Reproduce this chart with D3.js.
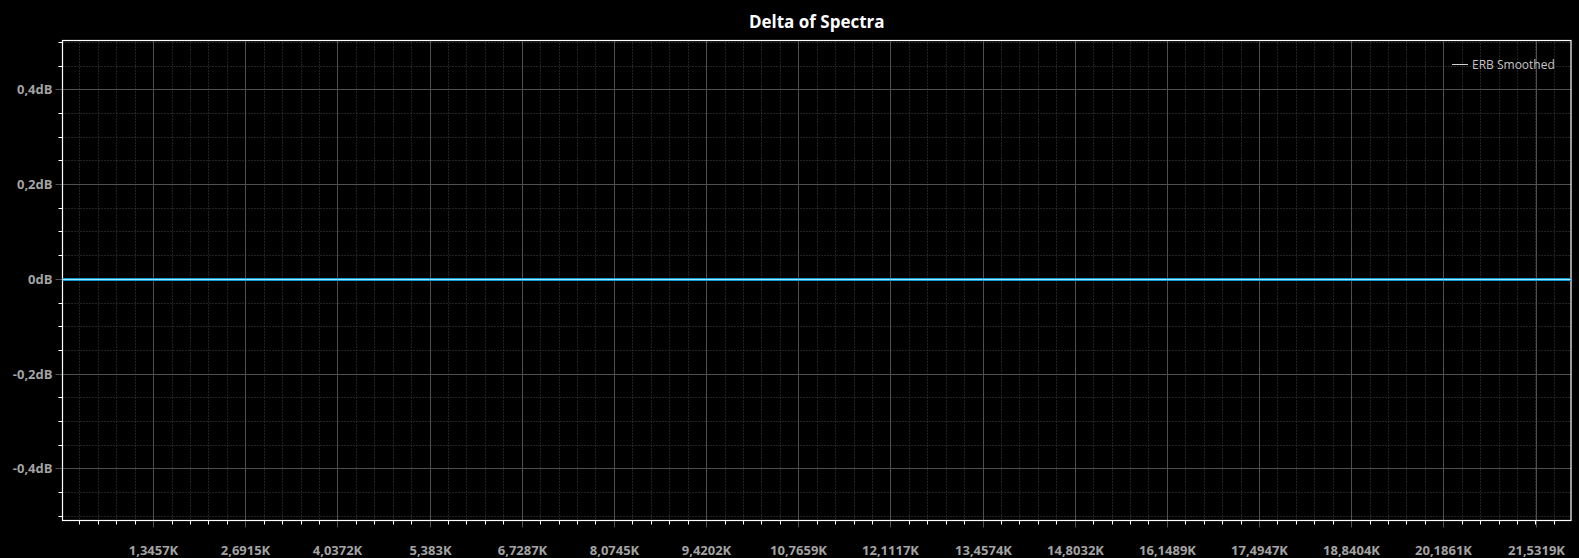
<!DOCTYPE html>
<html>
<head>
<meta charset="utf-8">
<title>Delta of Spectra</title>
<style>
  html, body { margin: 0; padding: 0; background: #000; }
  svg { display: block; }
  text { font-family: "Open Sans", "Noto Sans", sans-serif; }
  .tick-label { fill: #a3a3a3; font-size: 13px; font-weight: 700; }
  .title { fill: #fff; font-size: 17px; font-weight: 700; }
  .legend-text { fill: #c4c4c4; font-size: 12px; }
</style>
</head>
<body>
<svg id="chart" width="1579" height="558"></svg>
<script src="https://cdn.jsdelivr.net/npm/d3@7/dist/d3.min.js"></script>
<script>
// data
const freqs = [22, 1345.7, 2691.5, 4037.2, 5383, 6728.7, 8074.5, 9420.2, 10765.9,
               12111.7, 13457.4, 14803.2, 16148.9, 17494.7, 18840.4, 20186.1, 21531.9, 22050];
const deltaDb = [0, 0, 0, 0, 0, 0, 0, 0, 0, 0, 0, 0, 0, 0, 0, 0, 0, 0];
const xTickValues = [1345.7, 2691.5, 4037.2, 5383, 6728.7, 8074.5, 9420.2, 10765.9,
                     12111.7, 13457.4, 14803.2, 16148.9, 17494.7, 18840.4, 20186.1, 21531.9];
const xTickLabels = ["1,3457K", "2,6915K", "4,0372K", "5,383K", "6,7287K", "8,0745K", "9,4202K",
                     "10,7659K", "12,1117K", "13,4574K", "14,8032K", "16,1489K", "17,4947K",
                     "18,8404K", "20,1861K", "21,5319K"];
const yTickValues = [-0.4, -0.2, 0, 0.2, 0.4];
const yTickLabels = ["-0,4dB", "-0,2dB", "0dB", "0,2dB", "0,4dB"];
const seriesName = "ERB Smoothed";

const pLeft = 62.5, pTop = 40.5, pRight = 1571, pBottom = 520.5;

const svg = d3.select("#chart");

const x = d3.scaleLinear().domain([22, 22050]).range([pLeft, pRight]);
const y = d3.scaleLinear().domain([-0.51, 0.503]).range([pBottom, pTop]);

// minor positions: 5 subdivisions per major step
const xStep = xTickValues[0] / 5;
const xMinor = d3.range(1, 200).map(i => i * xStep).filter(v => v < x.domain()[1]);
const yMinor = d3.range(-10, 11).map(i => i * 0.05);

// snap tick groups onto whole pixels so lines stay crisp
const snapX = g => g.selectAll(".tick").attr("transform", d => `translate(${Math.round(x(d)) + 0.5},0)`);
const snapY = g => g.selectAll(".tick").attr("transform", d => `translate(0,${Math.round(y(d)) + 0.5})`);

// minor dotted grid
const grid = svg.append("g");
grid.selectAll(".vminor").data(xMinor).enter().append("line")
  .attr("x1", d => Math.round(x(d)) + 0.5).attr("x2", d => Math.round(x(d)) + 0.5)
  .attr("y1", pTop).attr("y2", pBottom)
  .attr("stroke", "#444").attr("stroke-dasharray", "1,2");
grid.selectAll(".hminor").data(yMinor).enter().append("line")
  .attr("x1", pLeft).attr("x2", pRight)
  .attr("y1", d => Math.round(y(d)) + 0.5).attr("y2", d => Math.round(y(d)) + 0.5)
  .attr("stroke", "#444").attr("stroke-dasharray", "1,2");

// minor ticks (white)
const xMinorTicks = d3.axisBottom(x).tickValues(xMinor).tickSize(4).tickFormat("");
svg.append("g").attr("transform", `translate(0,${pBottom})`).call(xMinorTicks)
  .call(g => g.select(".domain").remove())
  .call(snapX)
  .call(g => g.selectAll("line").attr("stroke", "#fff"));
const yMinorTicks = d3.axisLeft(y).tickValues(yMinor).tickSize(4).tickFormat("");
svg.append("g").attr("transform", `translate(${pLeft},0)`).call(yMinorTicks)
  .call(g => g.select(".domain").remove())
  .call(snapY)
  .call(g => g.selectAll("line").attr("stroke", "#fff"));

// major grid + labels
const xAxis = d3.axisBottom(x).tickValues(xTickValues)
  .tickSizeInner(-(pBottom - pTop)).tickSizeOuter(0)
  .tickFormat((d, i) => xTickLabels[i]);
svg.append("g").attr("transform", `translate(0,${pBottom})`).call(xAxis)
  .call(g => g.select(".domain").remove())
  .call(snapX)
  .call(g => g.selectAll(".tick line").attr("stroke", "#505050").attr("y1", 7))
  .call(g => g.selectAll(".tick text").attr("class", "tick-label").attr("y", 25));

const yAxis = d3.axisLeft(y).tickValues(yTickValues)
  .tickSizeInner(-(pRight - pLeft)).tickSizeOuter(0)
  .tickFormat((d, i) => yTickLabels[i]);
svg.append("g").attr("transform", `translate(${pLeft},0)`).call(yAxis)
  .call(g => g.select(".domain").remove())
  .call(snapY)
  .call(g => g.selectAll(".tick line").attr("stroke", "#505050").attr("x1", -7))
  .call(g => g.selectAll(".tick text").attr("class", "tick-label").attr("x", -10).attr("text-anchor", "end"));

// frame
svg.append("rect")
  .attr("x", pLeft).attr("y", pTop)
  .attr("width", pRight - pLeft).attr("height", pBottom - pTop)
  .attr("fill", "none").attr("stroke", "#fff").attr("stroke-width", 1.2);

// data line
const line = d3.line().x((d, i) => x(freqs[i])).y(d => Math.round(y(d)) + 0.5);
svg.append("path").datum(deltaDb).attr("d", line)
  .attr("fill", "none").attr("stroke", "#1898d2").attr("stroke-width", 3);
svg.append("path").datum(deltaDb).attr("d", line)
  .attr("fill", "none").attr("stroke", "#9cecff").attr("stroke-width", 1);

// title
svg.append("text").attr("class", "title")
  .attr("x", (pLeft + pRight) / 2).attr("y", 28)
  .attr("text-anchor", "middle").text("Delta of Spectra");

// legend
const lg = svg.append("g").attr("transform", "translate(1452,64.5)");
lg.append("line").attr("x1", 0).attr("x2", 16).attr("stroke", "#d0d0d0").attr("stroke-width", 1);
lg.append("text").attr("class", "legend-text").attr("x", 20).attr("y", 4).text(seriesName);
</script>
</body>
</html>
